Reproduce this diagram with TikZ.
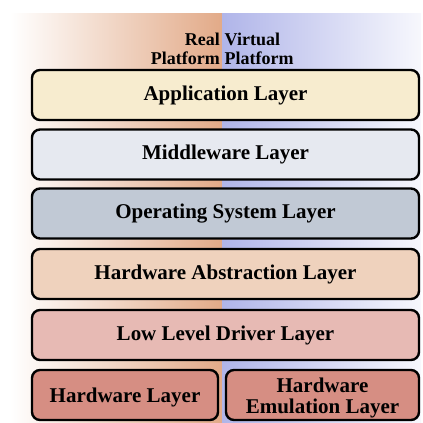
\documentclass[tikz,border=0pt]{standalone}
\usepackage{fontspec}
\setmainfont{Liberation Serif}
\definecolor{realside}{RGB}{226,170,136}
\definecolor{virtside}{RGB}{176,181,233}
\definecolor{appfill}{RGB}{247,236,207}
\definecolor{midfill}{RGB}{230,233,240}
\definecolor{osfill}{RGB}{193,201,213}
\definecolor{halfill}{RGB}{239,210,189}
\definecolor{lldfill}{RGB}{231,186,180}
\definecolor{hwfill}{RGB}{214,142,131}
\tikzset{
  layertext/.style={inner sep=0pt, align=center,
    font=\bfseries\fontsize{21}{21}\selectfont},
  layer/.style={layertext, draw=black, line width=2.4pt, rounded corners=8pt,
    minimum height=50pt},
  platlabel/.style={inner sep=0pt, font=\bfseries\fontsize{18}{19}\selectfont}
}
\begin{document}
\begin{tikzpicture}[x=1pt, y=-1pt]
\useasboundingbox (0,0) rectangle (423,423);
% background halves: real platform (left) and virtual platform (right)
\shade[left color=white, right color=realside] (10,13) rectangle (222,423);
\shade[left color=virtside, right color=virtside!10!white] (222,13) rectangle (421,423);

\node[platlabel, align=right, anchor=north east] (real) at (220,32.5) {Real\\Platform};
\node[platlabel, align=left, anchor=north west] (virt) at (224.5,32.5) {Virtual\\Platform};

\node[layer, fill=appfill, minimum width=387pt] (app) at (225.5,95) {Application Layer};
\node[layer, fill=midfill, minimum width=387pt] (mid) at (225.5,154.5) {Middleware Layer};
\node[layer, fill=osfill,  minimum width=387pt] (os)  at (225.5,213.5) {Operating System Layer};
\node[layer, fill=halfill, minimum width=387pt] (hal) at (225.5,274) {Hardware Abstraction Layer};
\node[layer, fill=lldfill, minimum width=387pt] (lld) at (225.5,335) {Low Level Driver Layer};
\node[layer, fill=hwfill,  minimum width=186pt] (hw)  at (125,395) {};
\node[layertext] (hwtext) at ([yshift=-2pt]hw.center) {Hardware Layer};
\node[layer, fill=hwfill,  minimum width=193pt] (emu) at (322.5,395) {};
\node[layertext] (emutext) at ([yshift=-3pt]emu.center) {Hardware\\Emulation Layer};
\end{tikzpicture}
\end{document}
